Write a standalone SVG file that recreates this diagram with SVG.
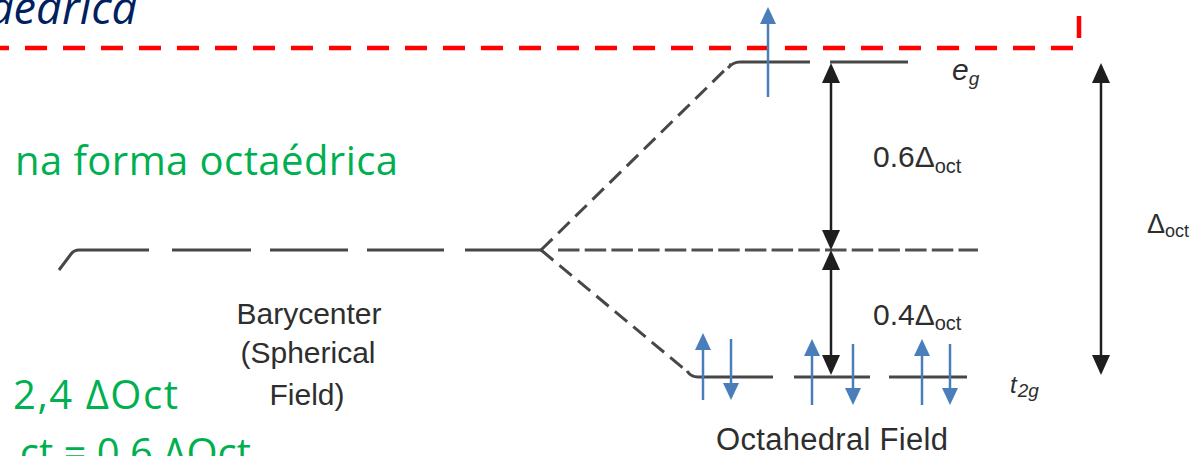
<svg xmlns="http://www.w3.org/2000/svg" width="1197" height="456" viewBox="0 0 1197 456">
<defs>
<style>
.lvl{stroke:#474747;stroke-width:3;fill:none}
.dg{stroke:#474747;stroke-width:3;fill:none;stroke-dasharray:16 8}
.mid{stroke:#505050;stroke-width:3;fill:none;stroke-dasharray:21.5 5.2}
.blk{stroke:#1e1e1e;stroke-width:2.5;fill:none;marker-start:url(#hk);marker-end:url(#hk)}
.blu{stroke:#4a7ebb;stroke-width:2.5;fill:none;marker-end:url(#hb)}
.lbl{font-family:"Liberation Sans",Arial,sans-serif;fill:#2e2e2e}
.it{font-style:italic}
.grn{font-family:"Open Sans","Noto Sans",sans-serif;fill:#00b050;font-size:40px}
.nav{font-family:"Open Sans","Noto Sans",sans-serif;fill:#002060;font-size:45px;font-style:italic}
</style>
<marker id="hk" markerUnits="userSpaceOnUse" viewBox="0 0 20 18" markerWidth="20" markerHeight="18" refX="2" refY="9" orient="auto-start-reverse"><path d="M0,0 L20,9 L0,18 z" fill="#1e1e1e"/></marker>
<marker id="hb" markerUnits="userSpaceOnUse" viewBox="0 0 17 16" markerWidth="17" markerHeight="16" refX="2" refY="8" orient="auto"><path d="M0,0 L17,8 L0,16 z" fill="#4a7ebb"/></marker>
</defs>
<rect width="1197" height="456" fill="#ffffff"/>

<g id="title">
<text class="nav" x="137" y="24" text-anchor="end">octaédrica</text>
</g>

<g id="frame">
<path d="M-13,48 H1079 V5" fill="none" stroke="#ff0000" stroke-width="4.5" stroke-dasharray="22 16"/>
</g>

<g id="green-text">
<text class="grn" x="15" y="175" textLength="383">na forma octaédrica</text>
<text class="grn" x="13" y="409" textLength="165">2,4 ΔOct</text>
<text class="grn" x="251" y="467" text-anchor="end">ct = 0,6 ΔOct</text>
</g>

<g id="barycenter">
<path class="lvl" d="M59,270 L71,254 Q74,250 79,250 H149"/>
<path class="lvl" d="M172,250 H251 M270,250 H348 M367,250 H444 M465,250 H541"/>
<text class="lbl" font-size="30" text-anchor="middle" x="309" y="324">Barycenter</text>
<text class="lbl" font-size="30" text-anchor="middle" x="308" y="363">(Spherical</text>
<text class="lbl" font-size="30" text-anchor="middle" x="307" y="405">Field)</text>
</g>

<g id="eg">
<path class="lvl" d="M728,68 Q733,62 740,62 H810"/>
<path class="lvl" d="M830,62 H908"/>
<text class="lbl it" x="952" y="80" font-size="30">e<tspan font-size="19" dy="5">g</tspan></text>
</g>

<g id="t2g">
<path class="lvl" d="M687,371 Q691,377 698,377 H773"/>
<path class="lvl" d="M794,377 H870 M889,377 H967"/>
<text class="lbl it" x="1010" y="393" font-size="24">t<tspan font-size="19" dx="1" dy="4">2g</tspan></text>
</g>

<g id="midline">
<path class="mid" d="M558,250 H978"/>
</g>

<g id="labels">
<text class="lbl" x="873" y="167" font-size="30">0.6Δ<tspan font-size="20" dy="6">oct</tspan></text>
<text class="lbl" x="873" y="325" font-size="30">0.4Δ<tspan font-size="20" dy="5">oct</tspan></text>
<text class="lbl" x="1147" y="233" font-size="27">Δ<tspan font-size="18" dy="4">oct</tspan></text>
<text class="lbl" x="716" y="450" font-size="31" textLength="232">Octahedral Field</text>
</g>

<g id="electrons">
<line class="blu" x1="768" y1="97" x2="768" y2="22"/>
<line class="blu" x1="703" y1="400" x2="703" y2="348"/>
<line class="blu" x1="731" y1="339" x2="731" y2="385"/>
<line class="blu" x1="812" y1="405" x2="812" y2="354"/>
<line class="blu" x1="853" y1="344" x2="853" y2="390"/>
<line class="blu" x1="922" y1="405" x2="922" y2="354"/>
<line class="blu" x1="950" y1="344" x2="950" y2="390"/>
</g>

<g id="connectors">
<path class="dg" d="M541,250 L731,64"/>
<path class="dg" d="M541,250 L689,373"/>
<line class="blk" x1="831" y1="81" x2="831" y2="232"/>
<line class="blk" x1="831" y1="268" x2="831" y2="357"/>
<line class="blk" x1="1101" y1="81" x2="1101" y2="357"/>
</g>
</svg>
